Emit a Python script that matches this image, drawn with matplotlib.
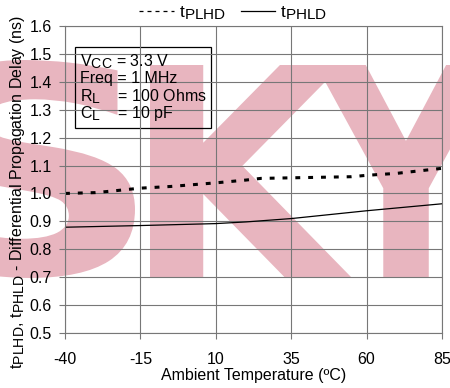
import numpy as np
import matplotlib.pyplot as plt
import matplotlib._mathtext as mathtext_internal
from matplotlib.textpath import TextPath
from matplotlib.patches import PathPatch, Rectangle
from matplotlib.font_manager import FontProperties
from matplotlib.transforms import Affine2D
from matplotlib.lines import Line2D

plt.rcParams['font.family'] = 'Liberation Sans'
plt.rcParams['mathtext.fontset'] = 'custom'
plt.rcParams['mathtext.rm'] = 'Liberation Sans'
plt.rcParams['mathtext.it'] = 'Liberation Sans:italic'
plt.rcParams['mathtext.bf'] = 'Liberation Sans:bold'
plt.rcParams['axes.unicode_minus'] = False
# the original's subscripts are nearly full size
mathtext_internal.SHRINK_FACTOR = 0.88

# data
temp_plhd = [-40, -30, -25, -15, -5, 10, 20, 25, 35, 55, 60, 70, 85]
t_plhd = [1.000, 1.003, 1.008, 1.019, 1.025, 1.038, 1.048, 1.054, 1.056, 1.060, 1.065, 1.072, 1.090]
temp_phld = [-40, -15, 10, 20, 35, 60, 85]
t_phld = [0.879, 0.885, 0.892, 0.898, 0.910, 0.938, 0.963]
xticks = [-40, -15, 10, 35, 60, 85]
yticks = [0.5, 0.6, 0.7, 0.8, 0.9, 1.0, 1.1, 1.2, 1.3, 1.4, 1.5, 1.6]
conditions = [r'V$_{\mathrm{CC}}$ = 3.3 V', 'Freq = 1 MHz',
              r'R$_{\mathrm{L}}$    = 100 Ohms', r'C$_{\mathrm{L}}$    = 10 pF']

W, H = 450, 388
fig = plt.figure(figsize=(4.5, 3.88), dpi=100)
ax = fig.add_axes([65/W, (H-333)/H, 377/W, 307/H])
ax.set_facecolor('none')

# pink watermark behind the chart
pink = '#e8b5bf'
def letter(ch, x0, x1, y0, y1):
    tp = TextPath((0, 0), ch, size=100, prop=FontProperties(family='DejaVu Sans', weight='bold'))
    ext = tp.get_extents()
    tr = Affine2D().translate(-ext.x0, -ext.y0).scale((x1-x0)/ext.width/W, (y1-y0)/ext.height/H)
    tr = tr.translate(x0/W, (H-y1)/H)
    fig.add_artist(PathPatch(tr.transform_path(tp), transform=fig.transFigure,
                             fc=pink, ec='none', zorder=-1))
letter('S', -75, 135, 60, 278)
letter('K', 150, 352, 65, 278)
letter('Y', 316, 496, 65, 278)

ax.plot(temp_plhd, t_plhd, color='black', lw=2.2, dashes=(1.6, 2.6), dash_capstyle='butt')
ax.plot(temp_phld, t_phld, color='black', lw=0.9)

ax.set_xlim(-40, 85)
ax.set_ylim(0.5, 1.6)
ax.set_xticks(xticks)
ax.set_yticks(yticks)
ax.set_yticklabels(['%.1f' % v for v in yticks])
ax.grid(True, color='#777777', lw=0.8)
for s in ax.spines.values():
    s.set_color('#777777')
    s.set_linewidth(0.8)
ax.tick_params(length=4.5, width=0.8, color='#777777', labelsize=11.5)
ax.tick_params(axis='x', pad=9)
ax.tick_params(axis='y', pad=5)

ax.set_xlabel('Ambient Temperature (ºC)', fontsize=11.5, labelpad=1)
ax.set_ylabel(r't$_{\mathrm{PLHD}}$, t$_{\mathrm{PHLD}}$ - Differential Propagation Delay (ns)', fontsize=11.5)
ax.yaxis.set_label_coords(-0.10, 0.46)

# test conditions box
ax.add_patch(Rectangle((0.027, 0.667), 0.361, 0.264, transform=ax.transAxes,
                       fill=False, ec='black', lw=0.9))
for i, s in enumerate(conditions):
    ax.text(0.04, 0.87 - i*0.057, s, transform=ax.transAxes, fontsize=11.5, va='baseline')

handles = [Line2D([], [], color='black', lw=0.9, ls=(0, (3.2, 3.2))),
           Line2D([], [], color='black', lw=0.9)]
ax.legend(handles, [r't$_{\mathrm{PLHD}}$', r't$_{\mathrm{PHLD}}$'], ncol=2, frameon=False,
          loc='lower center', bbox_to_anchor=(0.446, 0.985), fontsize=12.5,
          handlelength=2.0, handletextpad=0.3, columnspacing=0.85, borderpad=0)

fig.savefig('out.png', dpi=100)
